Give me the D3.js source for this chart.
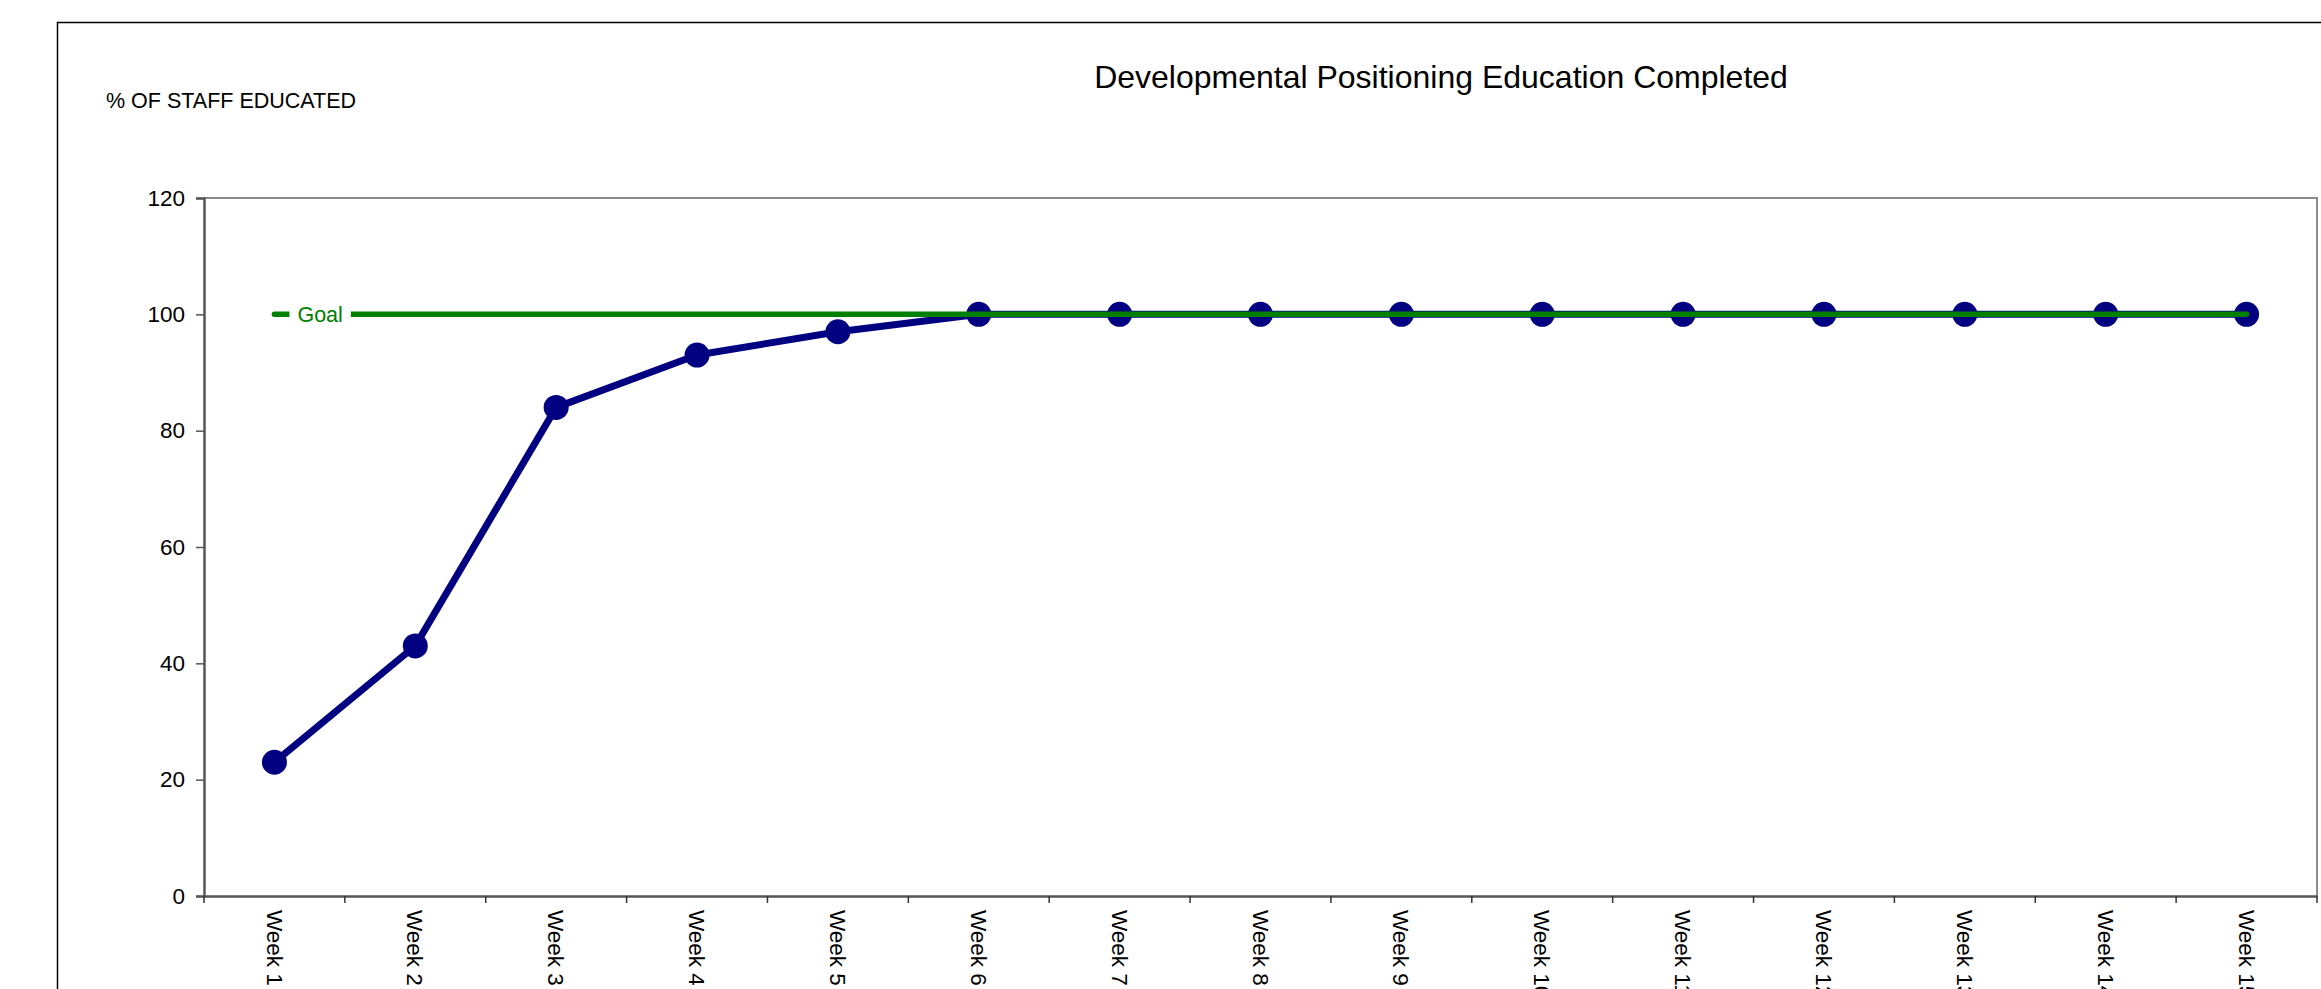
<!DOCTYPE html>
<html>
<head>
<meta charset="utf-8">
<script src="https://cdn.jsdelivr.net/npm/d3@7"></script>
<style>
  html, body { margin: 0; padding: 0; background: #fff; overflow: hidden; }
  svg { display: block; font-family: "Liberation Sans", Arial, sans-serif; }
</style>
</head>
<body>
<svg id="chart" width="2321" height="989"></svg>
<script>
const categories = ["Week 1","Week 2","Week 3","Week 4","Week 5","Week 6","Week 7","Week 8","Week 9","Week 10","Week 11","Week 12","Week 13","Week 14","Week 15"];
const staffEducated = [23, 43, 84, 93, 97, 100, 100, 100, 100, 100, 100, 100, 100, 100, 100];
const goalValues = [100, 100, 100, 100, 100, 100, 100, 100, 100, 100, 100, 100, 100, 100, 100];
const yTicks = [0, 20, 40, 60, 80, 100, 120];
const titleText = "Developmental Positioning Education Completed";
const yLabelText = "% OF STAFF EDUCATED";
const goalLabel = "Goal";

const svg = d3.select("#chart");
const plot = { left: 204, top: 198, right: 2317, bottom: 896 };

// outer chart border
svg.append("rect").attr("x", 57.5).attr("y", 22.5).attr("width", 2400).attr("height", 1200)
  .attr("fill", "none").attr("stroke", "#000").attr("stroke-width", 1.5);

const x = d3.scaleBand().domain(categories).range([plot.left, plot.right]).padding(0);
const y = d3.scaleLinear().domain([0, 120]).range([plot.bottom, plot.top]);

// plot area border (top & right, gray)
svg.append("path")
  .attr("d", `M${plot.left},${plot.top}H${plot.right}V${plot.bottom}`)
  .attr("fill", "none").attr("stroke", "#8c8c8c").attr("stroke-width", 2);

// Y axis
const yAxis = svg.append("g").attr("transform", `translate(${plot.left},0)`)
  .call(d3.axisLeft(y).tickValues(yTicks).tickSize(8).tickPadding(11));
yAxis.select(".domain").attr("stroke", "#555").attr("stroke-width", 2.5);
yAxis.selectAll(".tick line").attr("stroke", "#555").attr("stroke-width", 1.5);
yAxis.selectAll(".tick text").attr("font-size", 22.5).attr("fill", "#000")
  .attr("font-family", "Liberation Sans, Arial, sans-serif");

// X axis
const xAxis = svg.append("g").attr("transform", `translate(0,${plot.bottom})`)
  .call(d3.axisBottom(x).tickSize(0).tickFormat(""));
xAxis.select(".domain").attr("stroke", "#555").attr("stroke-width", 2.5);
// tick marks at category boundaries
const boundaries = categories.map(c => x(c)).concat([plot.right]);
svg.append("g").selectAll("line").data(boundaries).join("line")
  .attr("x1", d => d).attr("x2", d => d)
  .attr("y1", plot.bottom).attr("y2", plot.bottom + 7)
  .attr("stroke", "#333").attr("stroke-width", 1.5);

// X labels rotated (reading top-to-bottom)
svg.append("g").selectAll("text").data(categories).join("text")
  .attr("transform", d => `translate(${x(d) + x.bandwidth() / 2},${plot.bottom + 14}) rotate(90)`)
  .attr("dy", "0.35em")
  .attr("text-anchor", "start")
  .attr("font-size", 22.5).attr("fill", "#000")
  .text(d => d);

const cx = d => x(d) + x.bandwidth() / 2;

// staff line
const line = d3.line().x((d, i) => cx(categories[i])).y(d => y(d));
svg.append("path").datum(staffEducated)
  .attr("d", line).attr("fill", "none")
  .attr("stroke", "#000080").attr("stroke-width", 7).attr("stroke-linejoin", "round");
svg.append("g").selectAll("circle").data(staffEducated).join("circle")
  .attr("cx", (d, i) => cx(categories[i])).attr("cy", d => y(d)).attr("r", 12.5)
  .attr("fill", "#000080");

// goal line
svg.append("path").datum(goalValues)
  .attr("d", line).attr("fill", "none")
  .attr("stroke", "#008000").attr("stroke-width", 5.5).attr("stroke-linecap", "round");

// goal label with white background
const gx = cx(categories[0]) + 15, gy = y(goalValues[0]);
const gLabel = svg.append("g");
const gText = gLabel.append("text").attr("x", gx + 8).attr("y", gy).attr("dy", "0.35em")
  .attr("font-size", 21.5).attr("fill", "#008000").text(goalLabel);
const bb = gText.node().getBBox();
gLabel.insert("rect", "text").attr("x", gx).attr("y", bb.y - 2)
  .attr("width", bb.width + 16).attr("height", bb.height + 4).attr("fill", "#fff");

// titles
svg.append("text").attr("x", 1441).attr("y", 88).attr("text-anchor", "middle")
  .attr("font-size", 32).attr("fill", "#000").text(titleText);
svg.append("text").attr("x", 106).attr("y", 108).attr("text-anchor", "start")
  .attr("font-size", 21.5).attr("fill", "#000").text(yLabelText);
</script>
</body>
</html>
